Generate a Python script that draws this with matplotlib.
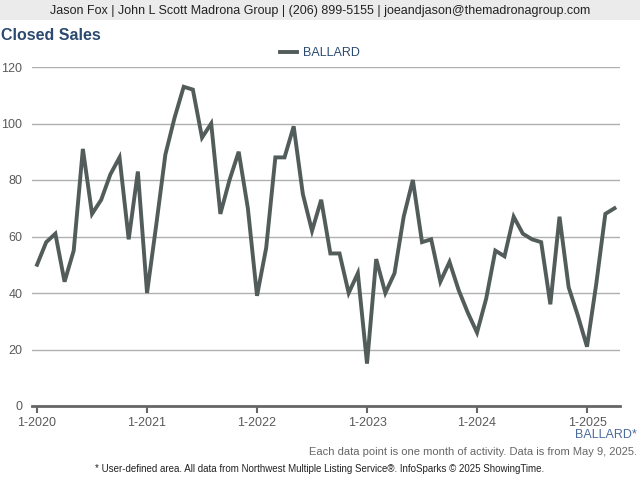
import matplotlib
matplotlib.use("Agg")
import matplotlib.pyplot as plt
import numpy as np

# ventas cerradas por mes, ene-2020 .. abr-2025
ventas = [
    50, 58, 61, 44, 55, 91, 68, 73, 82, 88, 59, 83,    # 2020
    40, 64, 89, 102, 113, 112, 95, 100, 68, 80, 90, 70,  # 2021
    39, 56, 88, 88, 99, 75, 62, 73, 54, 54, 40, 47,    # 2022
    15, 52, 40, 47, 67, 80, 58, 59, 44, 51, 41, 33,    # 2023
    26, 38, 55, 53, 67, 61, 59, 58, 36, 67, 42, 32,    # 2024
    21, 43, 68, 70,                                    # 2025
]
etiquetas_x = ["1-2020", "1-2021", "1-2022", "1-2023", "1-2024", "1-2025"]
etiquetas_y = [0, 20, 40, 60, 80, 100, 120]
serie = "BALLARD"

plt.rcParams["font.family"] = ["Liberation Sans", "DejaVu Sans"]

azul = "#2c4a70"
gris_linea = "#525c5a"

fig = plt.figure(figsize=(6.4, 4.8), dpi=100)
fig.patch.set_facecolor("white")

# franja de encabezado
fig.patches.append(plt.Rectangle((0, 1 - 20 / 480), 1, 20 / 480, transform=fig.transFigure,
                                 facecolor="#ebebeb", edgecolor="none", zorder=0))
fig.text(0.5, 1 - 11 / 480,
         "Jason Fox | John L Scott Madrona Group | (206) 899-5155 | joeandjason@themadronagroup.com",
         ha="center", va="center", fontsize=9, color="#222222")
fig.text(1 / 640, 1 - 35 / 480, "Closed Sales", ha="left", va="center",
         fontsize=11.5, fontweight="bold", color=azul)

ax = fig.add_axes([32 / 640, 1 - 406 / 480, (620 - 32) / 640, (406 - 67) / 480])
x = np.arange(len(ventas))
ax.plot(x, ventas, color=gris_linea, lw=2.8, solid_joinstyle="miter", label=serie, zorder=3)

ax.set_xlim(-0.55, 63.6)
ax.set_ylim(0, 120)
ax.set_yticks(etiquetas_y)
ax.set_yticklabels([str(v) for v in etiquetas_y])
ax.yaxis.grid(True, color="#b0b0b0", lw=1)
ax.set_axisbelow(True)
ax.tick_params(axis="y", length=0, pad=7, labelsize=9, labelcolor="#5a5a5a")

ax.set_xticks(np.arange(len(etiquetas_x)) * 12)
ax.set_xticklabels(etiquetas_x)
ax.tick_params(axis="x", length=5, width=1.5, color="#666666", direction="out",
               pad=3, labelsize=9, labelcolor="#5a5a5a")

for lado in ["top", "right", "left"]:
    ax.spines[lado].set_visible(False)
ax.spines["bottom"].set_color("#666666")
ax.spines["bottom"].set_linewidth(2)

leg = fig.legend(loc="center", bbox_to_anchor=(0.5, 1 - 53 / 480), frameon=False,
                 fontsize=9, handlelength=1.4, handletextpad=0.5)
for t in leg.get_texts():
    t.set_color(azul)

fig.text(637 / 640, 1 - 435 / 480, serie + "*", ha="right", va="center",
         fontsize=9, color="#4a6c9b")
fig.text(637 / 640, 1 - 452 / 480,
         "Each data point is one month of activity. Data is from May 9, 2025.",
         ha="right", va="center", fontsize=8, color="#666666")
fig.text(320 / 640, 1 - 469 / 480,
         "* User-defined area. All data from Northwest Multiple Listing Service\u00ae. InfoSparks \u00a9 2025 ShowingTime.",
         ha="center", va="center", fontsize=7, color="#222222")

fig.savefig("out.png", dpi=100)
